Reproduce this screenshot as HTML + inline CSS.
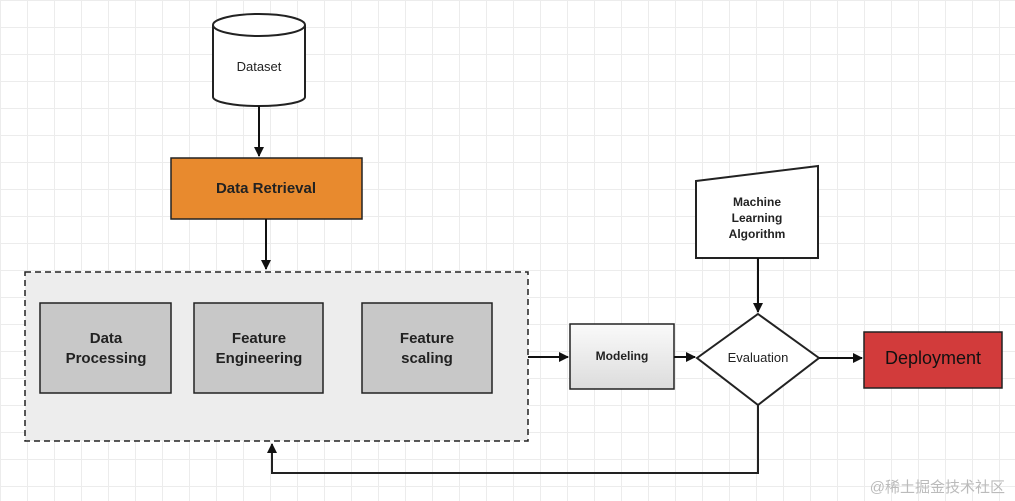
<!DOCTYPE html>
<html><head><style>
html,body{margin:0;padding:0}
body{width:1015px;height:501px;overflow:hidden;background:#fff;
background-image:linear-gradient(to right,#ececec 1px,transparent 1px),linear-gradient(to bottom,#ececec 1px,transparent 1px);background-size:27px 27px}
svg text{font-family:"Liberation Sans",sans-serif}
</style></head><body>
<svg width="1015" height="501" viewBox="0 0 1015 501" xmlns="http://www.w3.org/2000/svg" style="position:absolute;left:0;top:0">
<defs>
<marker id="a" markerWidth="10" markerHeight="10" refX="9" refY="5" orient="auto" markerUnits="userSpaceOnUse"><path d="M0,0 L10,5 L0,10 Z" fill="#111"/></marker>
<linearGradient id="g" x1="0" y1="0" x2="0" y2="1"><stop offset="0" stop-color="#fafafa"/><stop offset="1" stop-color="#dcdcdc"/></linearGradient>
</defs>
<!-- cylinder -->
<path d="M213,25 L213,97 A46,9 0 0 0 305,97 L305,25" fill="#fff" stroke="#222" stroke-width="2"/>
<ellipse cx="259" cy="25" rx="46" ry="11" fill="#fff" stroke="#222" stroke-width="2"/>
<text x="259" y="71" font-size="13" text-anchor="middle" fill="#222">Dataset</text>
<line x1="259" y1="106" x2="259" y2="156" stroke="#111" stroke-width="2" marker-end="url(#a)"/>
<rect x="171" y="158" width="191" height="61" fill="#e88a2e" stroke="#222" stroke-width="1.5"/>
<text x="266" y="193" font-size="15" font-weight="bold" text-anchor="middle" fill="#222">Data Retrieval</text>
<line x1="266" y1="219" x2="266" y2="269" stroke="#111" stroke-width="2" marker-end="url(#a)"/>
<rect x="25" y="272" width="503" height="169" fill="#ededed" stroke="#222" stroke-width="1.5" stroke-dasharray="6,4"/>
<rect x="40" y="303" width="131" height="90" fill="#c8c8c8" stroke="#222" stroke-width="1.5"/>
<text x="106" y="343" font-size="15" font-weight="bold" text-anchor="middle" fill="#222">Data</text>
<text x="106" y="363" font-size="15" font-weight="bold" text-anchor="middle" fill="#222">Processing</text>
<rect x="194" y="303" width="129" height="90" fill="#c8c8c8" stroke="#222" stroke-width="1.5"/>
<text x="259" y="343" font-size="15" font-weight="bold" text-anchor="middle" fill="#222">Feature</text>
<text x="259" y="363" font-size="15" font-weight="bold" text-anchor="middle" fill="#222">Engineering</text>
<rect x="362" y="303" width="130" height="90" fill="#c8c8c8" stroke="#222" stroke-width="1.5"/>
<text x="427" y="343" font-size="15" font-weight="bold" text-anchor="middle" fill="#222">Feature</text>
<text x="427" y="363" font-size="15" font-weight="bold" text-anchor="middle" fill="#222">scaling</text>
<line x1="528" y1="357" x2="568" y2="357" stroke="#111" stroke-width="2" marker-end="url(#a)"/>
<rect x="570" y="324" width="104" height="65" fill="url(#g)" stroke="#222" stroke-width="1.5"/>
<text x="622" y="360" font-size="12" font-weight="bold" text-anchor="middle" fill="#222">Modeling</text>
<line x1="674" y1="357" x2="695" y2="357" stroke="#111" stroke-width="2" marker-end="url(#a)"/>
<path d="M758,314 L819,358 L758,405 L697,358 Z" fill="#fff" stroke="#222" stroke-width="2"/>
<text x="758" y="362" font-size="13" text-anchor="middle" fill="#222">Evaluation</text>
<path d="M696,181 L818,166 L818,258 L696,258 Z" fill="#fff" stroke="#222" stroke-width="2"/>
<text x="757" y="206" font-size="12" font-weight="bold" text-anchor="middle" fill="#222">Machine</text>
<text x="757" y="222" font-size="12" font-weight="bold" text-anchor="middle" fill="#222">Learning</text>
<text x="757" y="238" font-size="12" font-weight="bold" text-anchor="middle" fill="#222">Algorithm</text>
<line x1="758" y1="258" x2="758" y2="312" stroke="#111" stroke-width="2" marker-end="url(#a)"/>
<line x1="819" y1="358" x2="862" y2="358" stroke="#111" stroke-width="2" marker-end="url(#a)"/>
<rect x="864" y="332" width="138" height="56" fill="#d23b3b" stroke="#222" stroke-width="1.5"/>
<text x="933" y="364" font-size="18" text-anchor="middle" fill="#111">Deployment</text>
<polyline points="758,405 758,473 272,473 272,444" fill="none" stroke="#222" stroke-width="2" marker-end="url(#a)"/>
<text x="1005" y="492" font-size="15" text-anchor="end" fill="#bbb" font-family="Liberation Sans,Noto Sans CJK SC,sans-serif" style="font-family:'Liberation Sans','Noto Sans CJK SC',sans-serif">@稀土掘金技术社区</text>
</svg>
</body></html>
